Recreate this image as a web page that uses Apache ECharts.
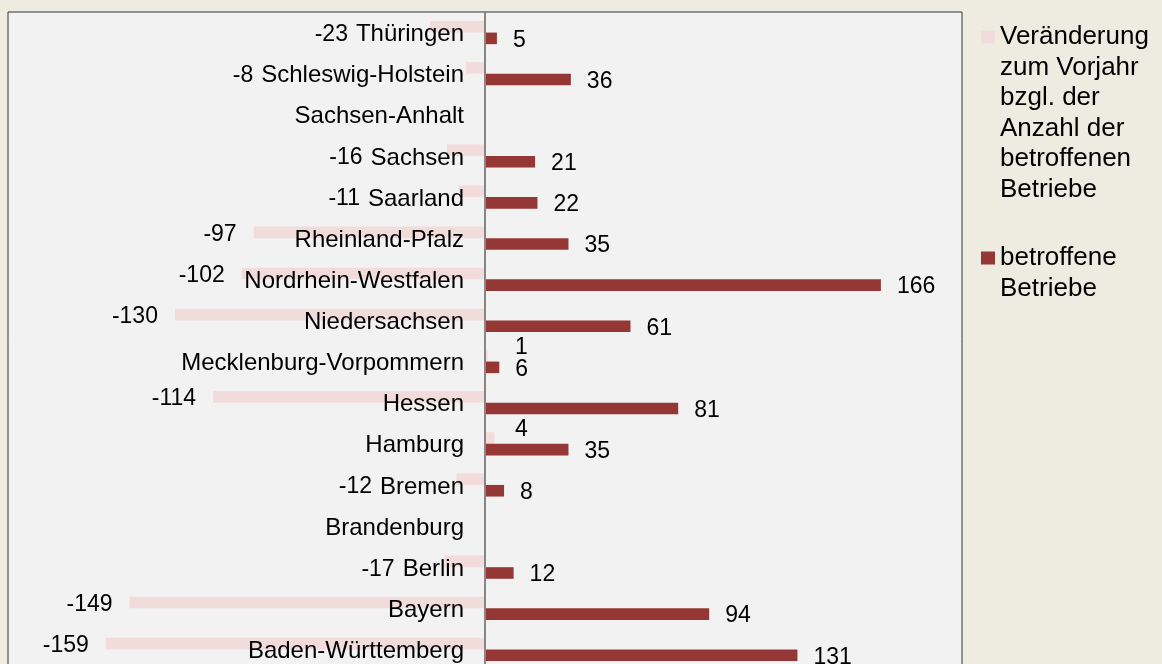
<!DOCTYPE html>
<html><head><meta charset="utf-8">
<script src="https://cdn.jsdelivr.net/npm/echarts@6/dist/echarts.min.js"></script>
<style>html,body{margin:0;padding:0;background:#EEECE1;} #c{width:1162px;height:664px;}</style>
</head><body><div id="c"></div>
<script>
const categories = ['Thüringen','Schleswig-Holstein','Sachsen-Anhalt','Sachsen','Saarland','Rheinland-Pfalz','Nordrhein-Westfalen','Niedersachsen','Mecklenburg-Vorpommern','Hessen','Hamburg','Bremen','Brandenburg','Berlin','Bayern','Baden-Württemberg'];
const changeValues = [-23, -8, null, -16, -11, -97, -102, -130, 1, -114, 4, -12, null, -17, -149, -159];
const companyValues = [5, 36, null, 21, 22, 35, 166, 61, 6, 81, 35, 8, null, 12, 94, 131];
const seriesNames = ['Veränderung zum Vorjahr bzgl. der Anzahl der betroffenen Betriebe', 'betroffene Betriebe'];
const legendLines = [['Veränderung','zum Vorjahr','bzgl. der','Anzahl der','betroffenen','Betriebe'], ['betroffene','Betriebe']];
const xMin = -200, xMax = 200;

const FONT = '"Liberation Sans", Arial, sans-serif';
const FS = 23, CFS = 24;
const LFS = 26, LLH = 30.5;
const BW = 11.6;
const DY = 2;
const GRID_LEFT = 8, GRID_RIGHT = 200, W = 1162;
const chart = echarts.init(document.getElementById('c'), null, {renderer: 'canvas'});

function legendText(name) {
  const lines = legendLines[seriesNames.indexOf(name)];
  const pad = [];
  for (let k = 0; k < lines.length - 1; k++) pad.push(' ');
  return pad.concat(lines).join('\n');
}
const legendTop = 37 - LLH * (2 * legendLines[0].length - 1) / 2;
const item1Bottom = legendTop + LLH * (2 * legendLines[0].length - 1);
const item2Top = 258 - LLH * (2 * legendLines[1].length - 1) / 2;
// move the category axis onto the zero line of the value axis
const gridW = W - GRID_LEFT - GRID_RIGHT;
const zeroShift = gridW * (0 - xMin) / (xMax - xMin);

const option = {
  backgroundColor: '#EEECE1',
  animation: false,
  textStyle: {fontFamily: FONT},
  grid: {left: GRID_LEFT, right: GRID_RIGHT, top: 12, height: 658, show: true, backgroundColor: '#F2F2F2', borderColor: '#333333', borderWidth: 1, containLabel: false, outerBoundsMode: 'none'},
  xAxis: {type: 'value', min: xMin, max: xMax, show: false},
  yAxis: {
    type: 'category', data: categories, inverse: true, z: 5, offset: -zeroShift,
    axisLine: {show: true, onZero: false, lineStyle: {color: '#868686', width: 2}},
    axisTick: {show: false},
    axisLabel: {
      show: true, fontSize: CFS, color: '#000', margin: 21, fontFamily: FONT, interval: 0,
      formatter: function (v) { return '{c|' + v + '}'; },
      rich: {c: {fontSize: CFS, color: '#000', fontFamily: FONT, padding: [2 * DY, 0, 0, 0]}}
    },
    splitLine: {show: false}
  },
  legend: {
    orient: 'vertical', left: 981, top: legendTop, padding: 0, itemGap: item2Top - item1Bottom,
    itemWidth: 14, itemHeight: 13, icon: 'rect', selectedMode: false,
    data: seriesNames,
    formatter: legendText,
    textStyle: {fontSize: LFS, lineHeight: LLH, color: '#000', fontFamily: FONT}
  },
  series: [
    {name: seriesNames[0], type: 'bar', data: changeValues, barWidth: BW, barGap: '0%',
     itemStyle: {color: '#F2DCDB'},
     label: {show: true, position: 'left', distance: 17, offset: [0, DY], fontSize: FS, color: '#000', fontFamily: FONT}},
    {name: seriesNames[1], type: 'bar', data: companyValues, barWidth: BW, barGap: '0%',
     itemStyle: {color: '#953735'},
     label: {show: true, position: 'right', distance: 16, offset: [0, DY], fontSize: FS, color: '#000', fontFamily: FONT}}
  ]
};
chart.setOption(option);

const zeroX = chart.convertToPixel({xAxisIndex: 0}, 0);
const ctx = document.createElement('canvas').getContext('2d');
ctx.font = CFS + 'px ' + FONT;
const pinkData = changeValues.map(function (v, i) {
  if (v == null) return v;
  const end = chart.convertToPixel({xAxisIndex: 0}, v);
  if (v >= 0) {
    const defLeft = end + 16;
    const dx = Math.max(0, zeroX + 30 - defLeft);
    return {value: v, label: {position: 'right', distance: 16, offset: [dx, -10 + DY]}};
  }
  const catLeft = zeroX - 21 - ctx.measureText(categories[i]).width;
  const defRight = end - 17;
  const target = catLeft - 8;
  if (defRight > target) return {value: v, label: {offset: [target - defRight, BW / 2 + DY]}};
  return v;
});
chart.setOption({series: [{data: pinkData}, {}]});
</script>
</body></html>
